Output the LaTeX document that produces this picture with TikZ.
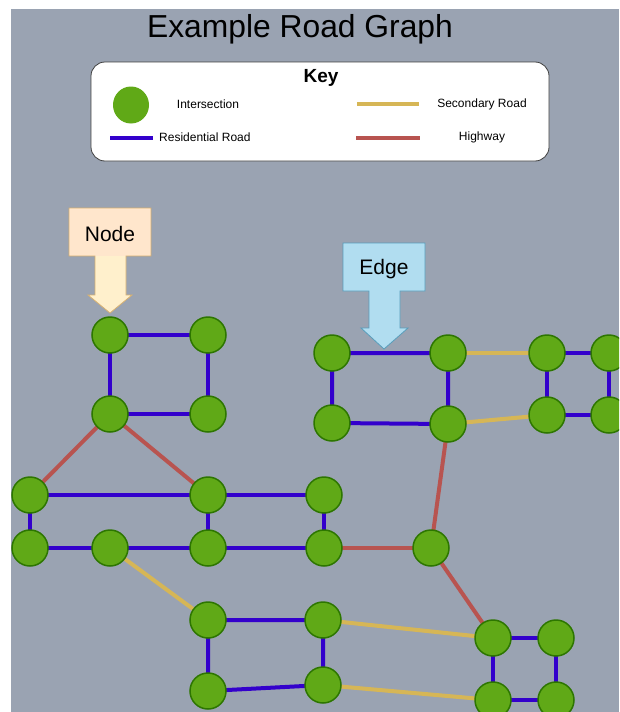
\documentclass[tikz,border=0pt]{standalone}
\usepackage{fontspec}
\setmainfont{Liberation Sans}
\usetikzlibrary{shapes.geometric}
\definecolor{bggray}{HTML}{9AA3B2}
\definecolor{nodegreen}{HTML}{60A917}
\definecolor{nodeline}{HTML}{2D7600}
\definecolor{resblue}{HTML}{3300CC}
\definecolor{secyellow}{HTML}{D6B656}
\definecolor{hwred}{HTML}{B85450}
\definecolor{peach}{HTML}{FFE6CC}
\definecolor{cream}{HTML}{FFF0CC}
\definecolor{peachline}{HTML}{D7B070}
\definecolor{skyblue}{HTML}{B1DDF0}
\definecolor{skyline}{HTML}{10739E}
\pgfdeclarelayer{canvas}
\pgfdeclarelayer{roads}
\pgfsetlayers{canvas,roads,main}
\tikzset{
  junction/.style={circle, minimum size=36pt, inner sep=0pt, fill=nodegreen, draw=nodeline, line width=1.5pt},
  resroad/.style={draw=resblue, line width=4pt},
  secroad/.style={draw=secyellow, line width=4pt},
  highway/.style={draw=hwred, line width=4pt},
  keylabel/.style={font=\fontsize{12}{14}\selectfont, inner sep=0pt},
  calloutlabel/.style={font=\fontsize{21}{25}\selectfont, inner sep=0pt}
}
\begin{document}
\begin{tikzpicture}[x=1pt,y=-1pt]
\useasboundingbox (0,0) rectangle (619,712);
\clip (0,0) rectangle (619,712);
% canvas
\begin{pgfonlayer}{canvas}
\fill[bggray] (11,9) rectangle (619,712);
\end{pgfonlayer}

% title
\node[font=\fontsize{31.8}{38}\selectfont, inner sep=0pt, anchor=base] (title) at (300,37) {Example Road Graph};

% legend
\draw[fill=white, draw=black!75, line width=0.8pt, rounded corners=14pt] (91,62) rectangle (549,161);
\node[font=\bfseries\fontsize{19}{23}\selectfont, inner sep=0pt] (keytitle) at (321,78) {Key};
\node[ellipse, minimum width=36pt, minimum height=37pt, inner sep=0pt, fill=nodegreen] (keyjunction) at (131,105) {};
\node[keylabel] (keyint) at (208,104) {Intersection};
\coordinate (kr1) at (110,138); \coordinate (kr2) at (153,138);
\draw[resroad] (kr1) -- (kr2);
\node[keylabel, anchor=west] (keyres) at (159,137) {Residential Road};
\coordinate (ks1) at (357,104); \coordinate (ks2) at (419,104);
\draw[secroad] (ks1) -- (ks2);
\node[keylabel] (keysec) at (482,104) {Secondary Road};
\coordinate (kh1) at (356,138); \coordinate (kh2) at (420,138);
\draw[highway] (kh1) -- (kh2);
\node[keylabel] (keyhw) at (482,137) {Highway};

% intersections
\node[junction] (t1) at (110,335) {};
\node[junction] (t2) at (208,335) {};
\node[junction] (t3) at (110,414) {};
\node[junction] (t4) at (208,414) {};
\node[junction] (a1) at (332,353) {};
\node[junction] (a2) at (448,353) {};
\node[junction] (a3) at (332,423) {};
\node[junction] (a4) at (448,424) {};
\node[junction] (b1) at (547,353) {};
\node[junction] (b2) at (609,353) {};
\node[junction] (b3) at (547,415) {};
\node[junction] (b4) at (609,415) {};
\node[junction] (c1) at (30,495) {};
\node[junction] (c2) at (208,495) {};
\node[junction] (c3) at (324,495) {};
\node[junction] (d1) at (30,548) {};
\node[junction] (d2) at (110,548) {};
\node[junction] (d3) at (208,548) {};
\node[junction] (d4) at (324,548) {};
\node[junction] (g)  at (431,548) {};
\node[junction] (e1) at (208,620) {};
\node[junction] (e2) at (323,620) {};
\node[junction] (e3) at (208,691) {};
\node[junction] (e4) at (323,685) {};
\node[junction] (f1) at (493,638) {};
\node[junction] (f2) at (556,638) {};
\node[junction] (f3) at (493,700) {};
\node[junction] (f4) at (556,700) {};

% roads run centre to centre, beneath the intersections
\begin{pgfonlayer}{roads}
% residential roads
\draw[resroad] (t1.center) -- (t2.center) -- (t4.center) -- (t3.center) -- cycle;
\draw[resroad] (a1.center) -- (a2.center) -- (a4.center) -- (a3.center) -- cycle;
\draw[resroad] (b1.center) -- (b2.center) -- (b4.center) -- (b3.center) -- cycle;
\draw[resroad] (c1.center) -- (c2.center) -- (c3.center);
\draw[resroad] (d1.center) -- (d2.center) -- (d3.center) -- (d4.center);
\draw[resroad] (c1.center) -- (d1.center);
\draw[resroad] (c2.center) -- (d3.center);
\draw[resroad] (c3.center) -- (d4.center);
\draw[resroad] (e1.center) -- (e2.center) -- (e4.center) -- (e3.center) -- cycle;
\draw[resroad] (f1.center) -- (f2.center) -- (f4.center) -- (f3.center) -- cycle;
% secondary roads
\draw[secroad] (a2.center) -- (b1.center);
\draw[secroad] (a4.center) -- (b3.center);
\draw[secroad] (d2.center) -- (e1.center);
\draw[secroad] (e2.center) -- (f1.center);
\draw[secroad] (e4.center) -- (f3.center);
% highways
\draw[highway] (t3.center) -- (c1.center);
\draw[highway] (t3.center) -- (c2.center);
\draw[highway] (a4.center) -- (g.center);
\draw[highway] (d4.center) -- (g.center);
\draw[highway] (g.center) -- (f1.center);
\end{pgfonlayer}

% "Node" callout
\fill[cream] (95,250) -- (126,250) -- (126,295) -- (132,295) -- (110,313) -- (88,295) -- (95,295) -- cycle;
\fill[peach] (69,208) rectangle (151,256);
\draw[peachline, line width=0.8pt, line join=miter]
  (69,208) -- (151,208) -- (151,256) -- (126,256) -- (126,295) -- (132,295) -- (110,313)
  -- (88,295) -- (95,295) -- (95,256) -- (69,256) -- cycle;
\node[calloutlabel] (nodelabel) at (110,234) {Node};

% "Edge" callout
\draw[fill=skyblue, draw=skyline!70, line width=0.8pt, line join=miter]
  (343,243) -- (425,243) -- (425,291) -- (400,291) -- (400,328) -- (408,328) -- (384,349)
  -- (361,328) -- (369,328) -- (369,291) -- (343,291) -- cycle;
\node[calloutlabel] (edgelabel) at (384,269) {Edge};
\end{tikzpicture}
\end{document}
